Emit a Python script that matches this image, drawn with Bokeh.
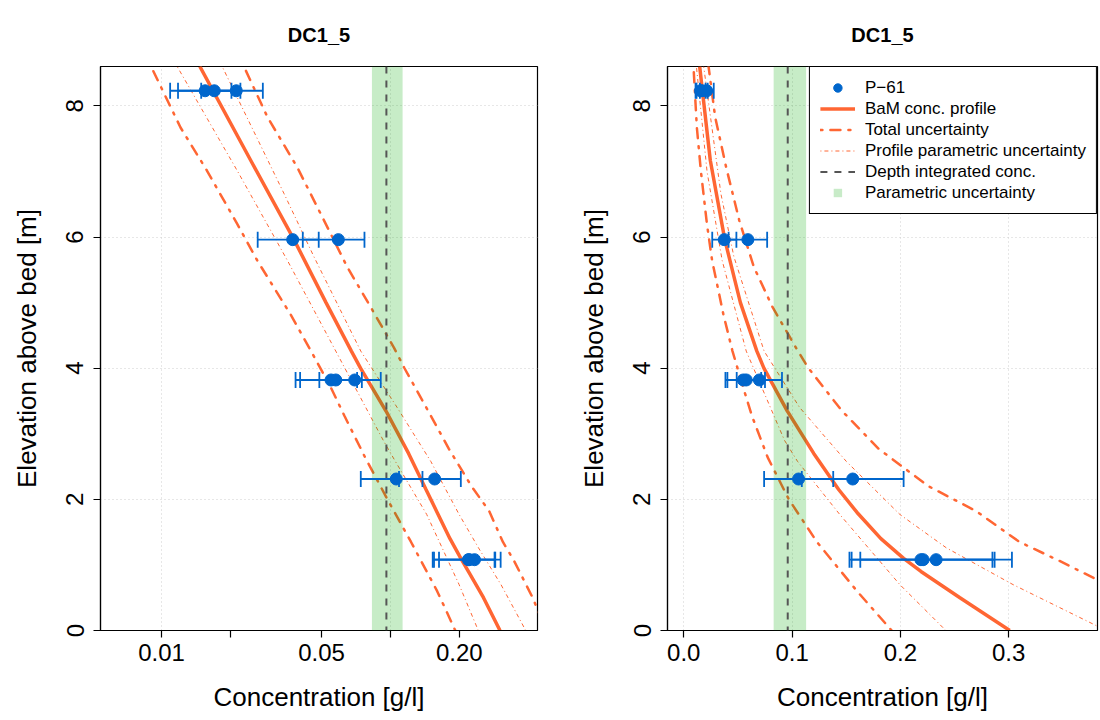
from bokeh.plotting import figure
from bokeh.models import (Range1d, FixedTicker, Legend, LegendItem, BoxAnnotation, Span)
from bokeh.layouts import row
from bokeh.embed import file_html
from bokeh.resources import INLINE

# ---------------- data ----------------
title_text = "DC1_5"
x_label = "Concentration [g/l]"
y_label = "Elevation above bed [m]"

# observations (P-61)
obs_z = [8.23, 8.23, 8.23, 5.96, 5.96, 3.82, 3.82, 3.82, 2.31, 2.31, 1.08, 1.08, 1.08]
obs_c = [0.0155, 0.0170, 0.0212, 0.0374, 0.0592, 0.0550, 0.0577, 0.0698, 0.106, 0.156, 0.219, 0.221, 0.233]
obs_lo = [0.0109, 0.0118, 0.0149, 0.0263, 0.0414, 0.0385, 0.0403, 0.0489, 0.0742, 0.109, 0.153, 0.155, 0.163]
obs_hi = [0.0202, 0.0221, 0.0277, 0.0486, 0.0770, 0.0715, 0.0750, 0.0907, 0.138, 0.203, 0.285, 0.287, 0.303]

# BaM concentration profile
prof_z = [0, 0.5, 0.9, 1.1, 1.4, 1.8, 2.15, 2.7, 3.35, 4.0, 4.26, 5.0, 5.96, 7.17, 8.6]
prof_c = [0.301, 0.255, 0.219, 0.203, 0.182, 0.160, 0.143, 0.120, 0.0955, 0.0740, 0.0675, 0.0523, 0.0379, 0.0245, 0.0147]

# total uncertainty bounds
tot_lo_z = [0, 0.6, 1.35, 2.0, 2.64, 3.27, 3.70, 4.26, 4.82, 5.64, 6.2, 7.01, 7.67, 8.6]
tot_lo_c = [0.192, 0.160, 0.123, 0.097, 0.0775, 0.063, 0.055, 0.045, 0.0366, 0.0262, 0.0214, 0.0158, 0.0121, 0.0090]
tot_hi_z = [0, 0.5, 0.78, 1.06, 1.35, 1.82, 2.2, 2.77, 3.35, 4.01, 4.31, 4.93, 5.54, 6.25, 7.06, 7.83, 8.6]
tot_hi_c = [0.48, 0.418, 0.381, 0.347, 0.31, 0.27, 0.226, 0.180, 0.146, 0.1147, 0.1037, 0.082, 0.0648, 0.0513, 0.0392, 0.029, 0.0229]

# profile parametric uncertainty bounds
par_lo_z = [0, 0.7, 1.77, 2.58, 2.9, 4.26, 5.64, 7.0, 8.6]
par_lo_c = [0.242, 0.1995, 0.144, 0.105, 0.093, 0.0577, 0.0355, 0.0215, 0.0117]
par_hi_z = [0, 0.7, 1.26, 1.77, 2.58, 3.40, 4.26, 5.7, 6.66, 8.6]
par_hi_c = [0.39, 0.304, 0.2425, 0.1995, 0.150, 0.107, 0.0742, 0.0463, 0.0343, 0.0184]

# depth integrated concentration and its parametric uncertainty
integ_c = 0.096
integ_lo = 0.083
integ_hi = 0.113

# axes
y_lim = (0, 8.6)
y_ticks = [0, 2, 4, 6, 8]
left_xlim = (0.00541, 0.439)
left_xticks = [0.01, 0.02, 0.05, 0.1, 0.2]
left_xtick_labels = ["0.01", "", "0.05", "", "0.20"]
left_xgrid = [0.01, 0.1]
right_xlim = (-0.015, 0.382)
right_xticks = [0.0, 0.1, 0.2, 0.3]
right_xtick_labels = ["0.0", "0.1", "0.2", "0.3"]

legend_labels = ["P\u221261", "BaM conc. profile", "Total uncertainty",
                 "Profile parametric uncertainty", "Depth integrated conc.",
                 "Parametric uncertainty"]

# ---------------- style ----------------
FONT = "Liberation Sans"
ORANGE = "#FF6633"
BLUE = "#0066CC"
GRAY = "#555555"
GREEN = "#00AA00"
NAN = float("nan")


def make_fig(log, xlim, xticks, xlabels, xgrid, width, mbl, mbr):
    p = figure(width=width, height=720,
               x_axis_type="log" if log else "linear",
               x_range=Range1d(*xlim), y_range=Range1d(*y_lim),
               output_backend="svg", toolbar_location=None,
               min_border_left=mbl, min_border_right=mbr,
               min_border_top=66, min_border_bottom=90,
               title=title_text)
    p.background_fill_color = "white"
    p.border_fill_color = "white"
    p.outline_line_color = "black"
    p.outline_line_width = 1.2
    p.outline_line_alpha = 1

    p.title.text_font = FONT
    p.title.text_font_size = "20px"
    p.title.text_font_style = "bold"
    p.title.text_color = "black"
    p.title.align = "center"
    p.title.standoff = 42

    p.xaxis.ticker = FixedTicker(ticks=xticks)
    p.xaxis.major_label_overrides = {t: l for t, l in zip(xticks, xlabels)}
    p.yaxis.ticker = FixedTicker(ticks=y_ticks)
    p.xaxis.axis_label = x_label
    p.yaxis.axis_label = y_label
    for ax in p.axis:
        ax.axis_line_color = "black"
        ax.axis_line_width = 1.2
        ax.major_tick_line_color = "black"
        ax.major_tick_line_width = 1.2
        ax.major_tick_out = 7
        ax.major_tick_in = 0
        ax.minor_tick_line_color = None
        ax.major_label_text_font = FONT
        ax.major_label_text_font_size = "24px"
        ax.major_label_text_color = "black"
        ax.axis_label_text_font = FONT
        ax.axis_label_text_font_size = "26px"
        ax.axis_label_text_font_style = "normal"
        ax.axis_label_text_color = "black"
    p.xaxis.major_label_standoff = 6
    p.xaxis.axis_label_standoff = 18
    p.yaxis.major_label_orientation = "vertical"
    p.yaxis.major_label_standoff = 10
    p.yaxis.axis_label_standoff = 22

    p.xgrid.ticker = FixedTicker(ticks=xgrid)
    p.ygrid.ticker = FixedTicker(ticks=y_ticks)
    for g in (p.xgrid, p.ygrid):
        g.grid_line_color = "#CFCFCF"
        g.grid_line_dash = "1 3"
        g.grid_line_width = 1

    # uncertainty and profile lines
    p.line(tot_lo_c, tot_lo_z, line_color=ORANGE, line_width=2.5,
           line_dash="2 8 10 8", line_cap="round")
    p.line(tot_hi_c, tot_hi_z, line_color=ORANGE, line_width=2.5,
           line_dash="2 8 10 8", line_cap="round")
    p.line(par_lo_c, par_lo_z, line_color=ORANGE, line_width=1,
           line_dash="1 3 4 3")
    p.line(par_hi_c, par_hi_z, line_color=ORANGE, line_width=1,
           line_dash="1 3 4 3")
    p.line(prof_c, prof_z, line_color=ORANGE, line_width=3.5)

    # band and integrated value
    p.add_layout(BoxAnnotation(left=integ_lo, right=integ_hi,
                               fill_color=GREEN, fill_alpha=0.22,
                               line_alpha=0))
    p.add_layout(Span(location=integ_c, dimension="height", line_color=GRAY,
                      line_width=2, line_dash="7 7"))

    # observations with error bars
    p.segment(x0=obs_lo, y0=obs_z, x1=obs_hi, y1=obs_z, line_color=BLUE,
              line_width=1.8, level="overlay")
    p.scatter(obs_lo, obs_z, marker="dash", angle=1.5708, size=16,
              line_color=BLUE, line_width=1.8, level="overlay")
    p.scatter(obs_hi, obs_z, marker="dash", angle=1.5708, size=16,
              line_color=BLUE, line_width=1.8, level="overlay")
    p.scatter(obs_c, obs_z, marker="circle", size=12, fill_color=BLUE,
              line_color=BLUE, level="overlay")
    return p


p1 = make_fig(True, left_xlim, left_xticks, left_xtick_labels, left_xgrid,
              558, 100, 21)
p2 = make_fig(False, right_xlim, right_xticks, right_xtick_labels,
              right_xticks, 542, 109, 3)

# legend (invisible renderers used only for legend glyphs)
lg_pt = p2.scatter(x=[NAN], y=[NAN], marker="circle", size=8,
                   fill_color=BLUE, line_color=BLUE)
lg_prof = p2.line(x=[NAN, NAN], y=[NAN, NAN], line_color=ORANGE, line_width=3.5)
lg_tot = p2.line(x=[NAN, NAN], y=[NAN, NAN], line_color=ORANGE, line_width=2.5,
                 line_dash="2 8 10 8", line_cap="round")
lg_par = p2.line(x=[NAN, NAN], y=[NAN, NAN], line_color=ORANGE, line_width=1,
                 line_dash="1 3 4 3")
lg_int = p2.line(x=[NAN, NAN], y=[NAN, NAN], line_color=GRAY, line_width=2,
                 line_dash="7 7")
lg_band = p2.scatter(x=[NAN], y=[NAN], marker="square", size=10,
                     fill_color="#C8EBC8", line_color=None)
items = [LegendItem(label=l, renderers=[r]) for l, r in
         zip(legend_labels, [lg_pt, lg_prof, lg_tot, lg_par, lg_int, lg_band])]
legend = Legend(items=items, location="top_right", margin=0, padding=10,
                spacing=0, glyph_height=21, glyph_width=35, label_height=21,
                label_standoff=10, label_text_font=FONT,
                label_text_font_size="17px", label_text_color="black",
                border_line_color="black",
                border_line_width=1.2, border_line_alpha=1,
                background_fill_color="white", background_fill_alpha=1)
p2.add_layout(legend)

layout = row(p1, p2)
open("out.html", "w").write(file_html(layout, INLINE))
